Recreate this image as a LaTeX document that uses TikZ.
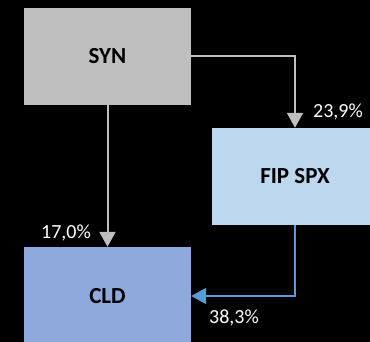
\documentclass[tikz,border=0pt]{standalone}
\usepackage{fontspec}
\setmainfont{Carlito}
\usetikzlibrary{arrows.meta}
\definecolor{synfill}{HTML}{BFBFBF}
\definecolor{fipfill}{HTML}{BDD7EE}
\definecolor{cldfill}{HTML}{8EA9DB}
\definecolor{bluearrow}{HTML}{5B9BD5}
\definecolor{grayarrow}{HTML}{BFBFBF}
\tikzset{
  box/.style={rectangle, inner sep=0pt, minimum width=167pt, minimum height=97pt,
    font=\fontsize{23}{25}\selectfont\bfseries, text=black},
  pct/.style={inner sep=0pt, font=\fontsize{20}{22}\selectfont, text=white},
  flow/.style={line width=2pt, -{Triangle[width=16pt,length=15pt]}},
}
\begin{document}
\begin{tikzpicture}[x=1pt,y=-1pt]
\clip (0,0) rectangle (370,342);
\fill[black] (0,0) rectangle (370,342);
\node[box, fill=synfill] (syn) at (107.5,56.5) {SYN};
\node[box, fill=fipfill, minimum width=166pt] (fip) at (295,176.5) {FIP SPX};
\node[box, fill=cldfill, minimum height=98pt] (cld) at (107.5,296) {CLD};
\draw[flow, grayarrow] (syn.east) -| (fip.north);
\draw[flow, grayarrow] (syn.south) -- (cld.north);
\draw[flow, bluearrow] (fip.south) |- (cld.east);
\node[pct] (l1) at (338,112) {23,9\%};
\node[pct] (l2) at (66,233) {17,0\%};
\node[pct] (l3) at (234,318) {38,3\%};
\end{tikzpicture}
\end{document}
